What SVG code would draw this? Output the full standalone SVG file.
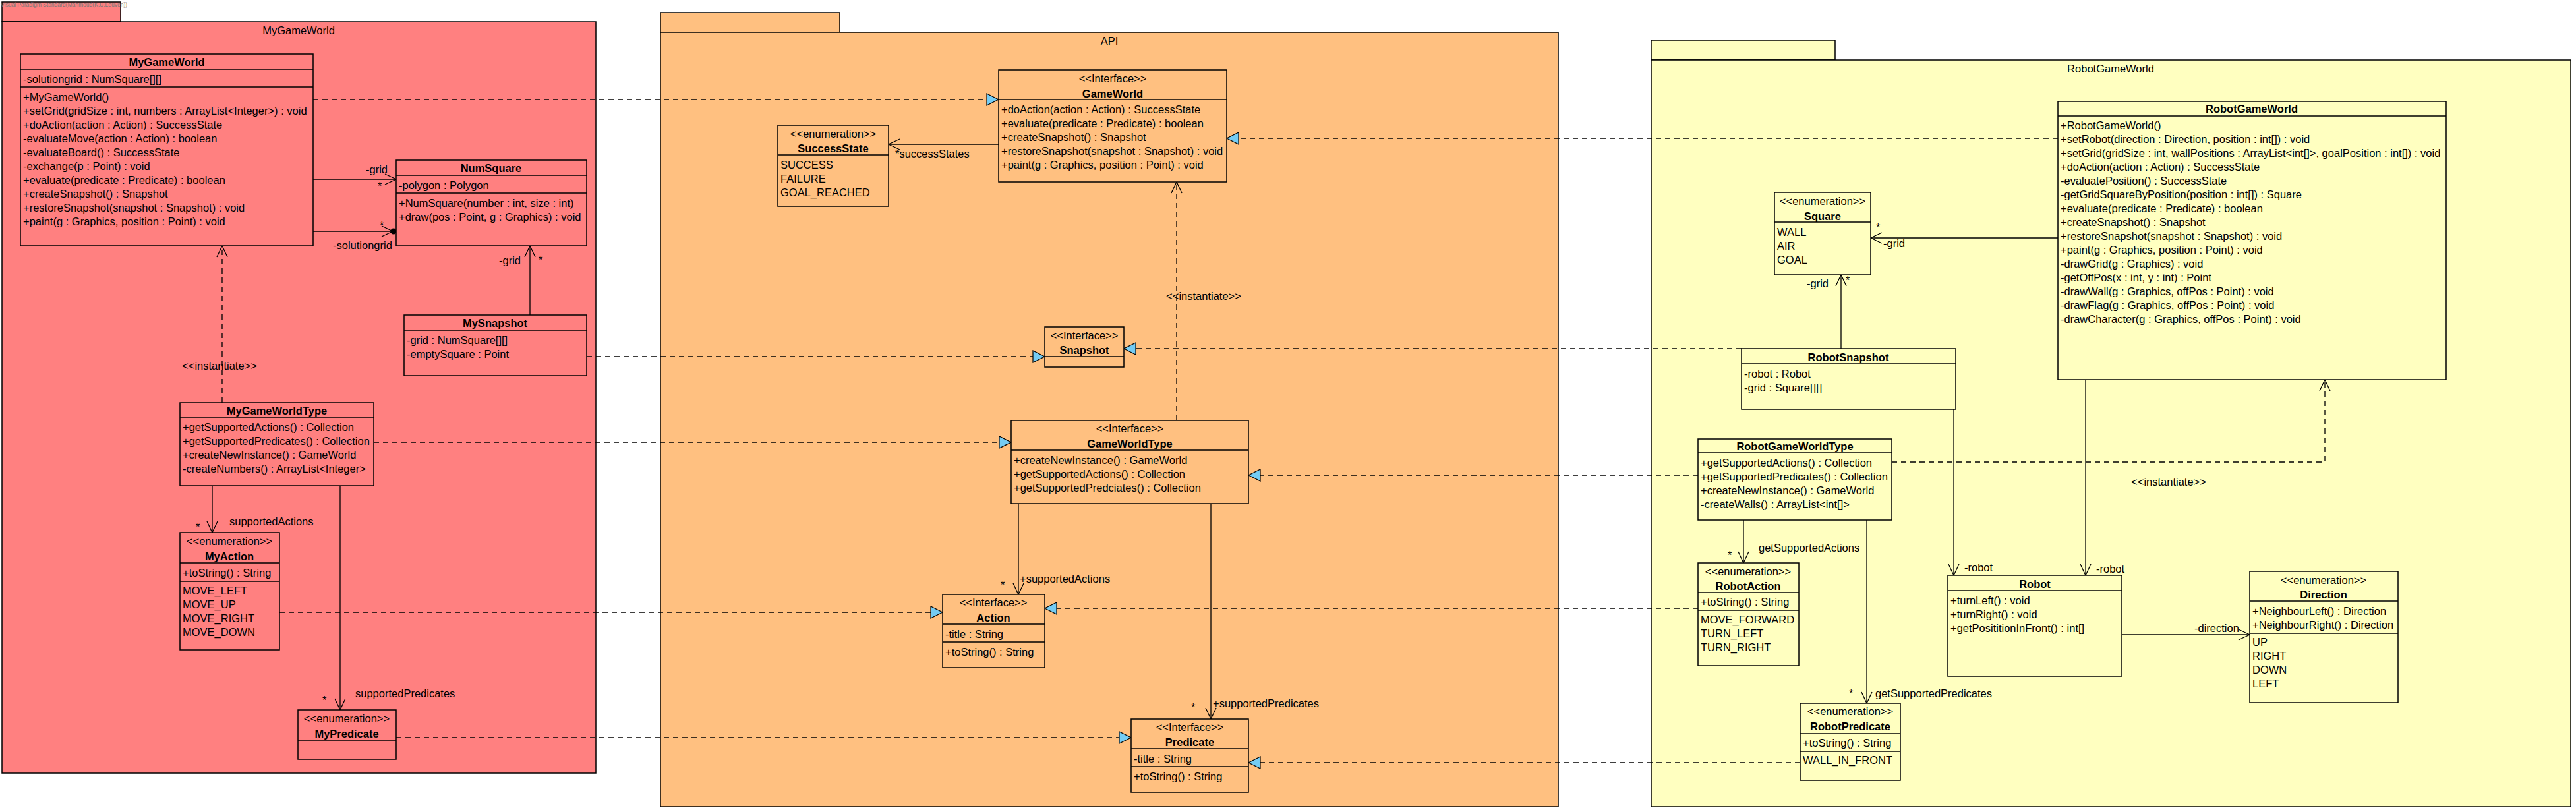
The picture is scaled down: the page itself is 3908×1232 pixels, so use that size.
<svg xmlns="http://www.w3.org/2000/svg" width="3908" height="1232" viewBox="0 0 3908 1232">
<defs>
<style>
text{font-family:"Liberation Sans",Arial,sans-serif;font-size:16.5px;fill:#000}
.b{font-weight:bold}
.c{text-anchor:middle}
.pk{stroke:#000;stroke-width:1.5}
.bx{stroke:#000;stroke-width:1.5}
.sep{stroke:#000;stroke-width:1.5}
.pink{fill:#FF8080}
.orange{fill:#FFC080}
.yellow{fill:#FFFFC0}
.dash{fill:none;stroke:#000;stroke-width:1.3;stroke-dasharray:8 6}
.line{fill:none;stroke:#000;stroke-width:1.3}
.tab{font-size:8.5px;fill:#7a7a7a}
</style>
<marker id="real" markerUnits="userSpaceOnUse" markerWidth="24" markerHeight="24" viewBox="-21 -12 24 24" refX="0" refY="0" orient="auto">
<path d="M0,0 L-18,-9 L-18,9 Z" fill="#74CCF4" stroke="#000" stroke-width="1.2"/>
</marker>
<marker id="open" markerUnits="userSpaceOnUse" markerWidth="24" markerHeight="24" viewBox="-21 -12 24 24" refX="0" refY="0" orient="auto">
<path d="M-17,-8 L0,0 L-17,8" fill="none" stroke="#000" stroke-width="1.3"/>
</marker>
</defs>
<rect width="3908" height="1232" fill="#fff"/>

<!-- Packages -->
<g id="pkg-MyGameWorld">
<rect class="pk pink" x="3" y="3" width="180" height="30"/>
<rect class="pk pink" x="3" y="33" width="901" height="1140"/>
<text class="tab" x="1" y="10">Visual Paradigm Standard(Mahmoud(K.U.Leuven))</text>
<text class="c" x="453" y="52">MyGameWorld</text>
</g>
<g id="pkg-API">
<rect class="pk orange" x="1002" y="19" width="272" height="30"/>
<rect class="pk orange" x="1002" y="49" width="1362" height="1175"/>
<text class="c" x="1683" y="68">API</text>
</g>
<g id="pkg-RobotGameWorld">
<rect class="pk yellow" x="2505" y="61" width="279" height="30"/>
<rect class="pk yellow" x="2505" y="91" width="1395" height="1133"/>
<text class="c" x="3202" y="110">RobotGameWorld</text>
</g>

<!-- Connectors -->
<g id="connectors">
<!-- realizations -->
<path class="dash" d="M475,151 H1515" marker-end="url(#real)"/>
<path class="dash" d="M890,541 H1585" marker-end="url(#real)"/>
<path class="dash" d="M567,671 H1534" marker-end="url(#real)"/>
<path class="dash" d="M424,929 H1430" marker-end="url(#real)"/>
<path class="dash" d="M601,1119 H1716" marker-end="url(#real)"/>
<path class="dash" d="M3122,210 H1861" marker-end="url(#real)"/>
<path class="dash" d="M2642,529 H1705" marker-end="url(#real)"/>
<path class="dash" d="M2576,721 H1894" marker-end="url(#real)"/>
<path class="dash" d="M2576,923 H1585" marker-end="url(#real)"/>
<path class="dash" d="M2731,1157 H1894" marker-end="url(#real)"/>
<!-- instantiate -->
<path class="dash" d="M337,611 V373" marker-end="url(#open)"/>
<text class="c" x="333" y="561">&lt;&lt;instantiate&gt;&gt;</text>
<path class="dash" d="M1785,638 V276" marker-end="url(#open)"/>
<text class="c" x="1826" y="455">&lt;&lt;instantiate&gt;&gt;</text>
<path class="dash" d="M2870,701 H3527 V576" marker-end="url(#open)"/>
<text class="c" x="3290" y="737">&lt;&lt;instantiate&gt;&gt;</text>
<!-- associations -->
<path class="line" d="M475,272 H601" marker-end="url(#open)"/>
<text x="555" y="263">-grid</text>
<text x="573" y="288">*</text>
<path class="line" d="M475,351 H596" marker-end="url(#open)"/>
<circle cx="597" cy="351" r="4.5" fill="#000"/>
<text x="576" y="348">*</text>
<text x="505" y="378">-solutiongrid</text>
<path class="line" d="M804,478 V373" marker-end="url(#open)"/>
<text x="757" y="401">-grid</text>
<text x="817" y="400">*</text>
<path class="line" d="M322,737 V808" marker-end="url(#open)"/>
<text x="297" y="805">*</text>
<text x="348" y="797">supportedActions</text>
<path class="line" d="M516,737 V1077" marker-end="url(#open)"/>
<text x="489" y="1068">*</text>
<text x="539" y="1058">supportedPredicates</text>
<path class="line" d="M1515,219 H1348" marker-end="url(#open)"/>
<text x="1358" y="239">*successStates</text>
<path class="line" d="M1545,764 V902" marker-end="url(#open)"/>
<text x="1518" y="893">*</text>
<text x="1547" y="884">+supportedActions</text>
<path class="line" d="M1837,764 V1091" marker-end="url(#open)"/>
<text x="1807" y="1079">*</text>
<text x="1840" y="1073">+supportedPredicates</text>
<path class="line" d="M3122,361 H2838" marker-end="url(#open)"/>
<text x="2846" y="351">*</text>
<text x="2857" y="375">-grid</text>
<path class="line" d="M2793,529 V417" marker-end="url(#open)"/>
<text x="2741" y="436">-grid</text>
<text x="2800" y="431">*</text>
<path class="line" d="M2645,789 V854" marker-end="url(#open)"/>
<text x="2621" y="848">*</text>
<text x="2668" y="837">getSupportedActions</text>
<path class="line" d="M2832,789 V1067" marker-end="url(#open)"/>
<text x="2805" y="1058">*</text>
<text x="2845" y="1058">getSupportedPredicates</text>
<path class="line" d="M2964,621 V873" marker-end="url(#open)"/>
<text x="2980" y="867">-robot</text>
<path class="line" d="M3164,576 V873" marker-end="url(#open)"/>
<text x="3180" y="869">-robot</text>
<path class="line" d="M3219,963 H3413" marker-end="url(#open)"/>
<text x="3329" y="959">-direction</text>
</g>

<!-- MyGameWorld package classes -->
<g id="MyGameWorld">
<rect class="bx pink" x="31" y="82" width="444" height="291"/>
<line class="sep" x1="31" y1="105" x2="475" y2="105"/>
<line class="sep" x1="31" y1="132" x2="475" y2="132"/>
<text class="b c" x="253" y="100">MyGameWorld</text>
<text x="35" y="126">-solutiongrid : NumSquare[][]</text>
<text x="35" y="153">+MyGameWorld()</text>
<text x="35" y="174">+setGrid(gridSize : int, numbers : ArrayList&lt;Integer&gt;) : void</text>
<text x="35" y="195">+doAction(action : Action) : SuccessState</text>
<text x="35" y="216">-evaluateMove(action : Action) : boolean</text>
<text x="35" y="237">-evaluateBoard() : SuccessState</text>
<text x="35" y="258">-exchange(p : Point) : void</text>
<text x="35" y="279">+evaluate(predicate : Predicate) : boolean</text>
<text x="35" y="300">+createSnapshot() : Snapshot</text>
<text x="35" y="321">+restoreSnapshot(snapshot : Snapshot) : void</text>
<text x="35" y="342">+paint(g : Graphics, position : Point) : void</text>
</g>
<g id="NumSquare">
<rect class="bx pink" x="601" y="243" width="289" height="130"/>
<line class="sep" x1="601" y1="266" x2="890" y2="266"/>
<line class="sep" x1="601" y1="293" x2="890" y2="293"/>
<text class="b c" x="745" y="261">NumSquare</text>
<text x="605" y="287">-polygon : Polygon</text>
<text x="605" y="314">+NumSquare(number : int, size : int)</text>
<text x="605" y="335">+draw(pos : Point, g : Graphics) : void</text>
</g>
<g id="MySnapshot">
<rect class="bx pink" x="613" y="478" width="277" height="92"/>
<line class="sep" x1="613" y1="501" x2="890" y2="501"/>
<text class="b c" x="751" y="496">MySnapshot</text>
<text x="617" y="522">-grid : NumSquare[][]</text>
<text x="617" y="543">-emptySquare : Point</text>
</g>
<g id="MyGameWorldType">
<rect class="bx pink" x="273" y="611" width="294" height="126"/>
<line class="sep" x1="273" y1="633" x2="567" y2="633"/>
<text class="b c" x="420" y="629">MyGameWorldType</text>
<text x="277" y="654">+getSupportedActions() : Collection</text>
<text x="277" y="675">+getSupportedPredicates() : Collection</text>
<text x="277" y="696">+createNewInstance() : GameWorld</text>
<text x="277" y="717">-createNumbers() : ArrayList&lt;Integer&gt;</text>
</g>
<g id="MyAction">
<rect class="bx pink" x="273" y="808" width="151" height="178"/>
<line class="sep" x1="273" y1="854" x2="424" y2="854"/>
<line class="sep" x1="273" y1="882" x2="424" y2="882"/>
<text class="c" x="348" y="827">&lt;&lt;enumeration&gt;&gt;</text>
<text class="b c" x="348" y="850">MyAction</text>
<text x="277" y="875">+toString() : String</text>
<text x="277" y="902">MOVE_LEFT</text>
<text x="277" y="923">MOVE_UP</text>
<text x="277" y="944">MOVE_RIGHT</text>
<text x="277" y="965">MOVE_DOWN</text>
</g>
<g id="MyPredicate">
<rect class="bx pink" x="452" y="1077" width="149" height="75"/>
<line class="sep" x1="452" y1="1123" x2="601" y2="1123"/>
<text class="c" x="526" y="1096">&lt;&lt;enumeration&gt;&gt;</text>
<text class="b c" x="526" y="1119">MyPredicate</text>
</g>

<!-- API classes -->
<g id="GameWorld">
<rect class="bx orange" x="1515" y="106" width="346" height="170"/>
<line class="sep" x1="1515" y1="151" x2="1861" y2="151"/>
<text class="c" x="1688" y="125">&lt;&lt;Interface&gt;&gt;</text>
<text class="b c" x="1688" y="148">GameWorld</text>
<text x="1519" y="172">+doAction(action : Action) : SuccessState</text>
<text x="1519" y="193">+evaluate(predicate : Predicate) : boolean</text>
<text x="1519" y="214">+createSnapshot() : Snapshot</text>
<text x="1519" y="235">+restoreSnapshot(snapshot : Snapshot) : void</text>
<text x="1519" y="256">+paint(g : Graphics, position : Point) : void</text>
</g>
<g id="SuccessState">
<rect class="bx orange" x="1180" y="190" width="168" height="123"/>
<line class="sep" x1="1180" y1="235" x2="1348" y2="235"/>
<text class="c" x="1264" y="209">&lt;&lt;enumeration&gt;&gt;</text>
<text class="b c" x="1264" y="231">SuccessState</text>
<text x="1184" y="256">SUCCESS</text>
<text x="1184" y="277">FAILURE</text>
<text x="1184" y="298">GOAL_REACHED</text>
</g>
<g id="Snapshot">
<rect class="bx orange" x="1585" y="496" width="120" height="61"/>
<line class="sep" x1="1585" y1="541" x2="1705" y2="541"/>
<text class="c" x="1645" y="515">&lt;&lt;Interface&gt;&gt;</text>
<text class="b c" x="1645" y="537">Snapshot</text>
</g>
<g id="GameWorldType">
<rect class="bx orange" x="1534" y="638" width="360" height="126"/>
<line class="sep" x1="1534" y1="683" x2="1894" y2="683"/>
<text class="c" x="1714" y="656">&lt;&lt;Interface&gt;&gt;</text>
<text class="b c" x="1714" y="679">GameWorldType</text>
<text x="1538" y="704">+createNewInstance() : GameWorld</text>
<text x="1538" y="725">+getSupportedActions() : Collection</text>
<text x="1538" y="746">+getSupportedPredciates() : Collection</text>
</g>
<g id="Action">
<rect class="bx orange" x="1430" y="902" width="155" height="111"/>
<line class="sep" x1="1430" y1="947" x2="1585" y2="947"/>
<line class="sep" x1="1430" y1="974" x2="1585" y2="974"/>
<text class="c" x="1507" y="920">&lt;&lt;Interface&gt;&gt;</text>
<text class="b c" x="1507" y="943">Action</text>
<text x="1434" y="968">-title : String</text>
<text x="1434" y="995">+toString() : String</text>
</g>
<g id="Predicate">
<rect class="bx orange" x="1716" y="1091" width="178" height="111"/>
<line class="sep" x1="1716" y1="1136" x2="1894" y2="1136"/>
<line class="sep" x1="1716" y1="1163" x2="1894" y2="1163"/>
<text class="c" x="1805" y="1109">&lt;&lt;Interface&gt;&gt;</text>
<text class="b c" x="1805" y="1132">Predicate</text>
<text x="1720" y="1157">-title : String</text>
<text x="1720" y="1184">+toString() : String</text>
</g>

<!-- RobotGameWorld classes -->
<g id="Square">
<rect class="bx yellow" x="2692" y="292" width="146" height="125"/>
<line class="sep" x1="2692" y1="337" x2="2838" y2="337"/>
<text class="c" x="2765" y="311">&lt;&lt;enumeration&gt;&gt;</text>
<text class="b c" x="2765" y="334">Square</text>
<text x="2696" y="358">WALL</text>
<text x="2696" y="379">AIR</text>
<text x="2696" y="400">GOAL</text>
</g>
<g id="RobotGameWorld">
<rect class="bx yellow" x="3122" y="154" width="589" height="422"/>
<line class="sep" x1="3122" y1="176" x2="3711" y2="176"/>
<text class="b c" x="3416" y="171">RobotGameWorld</text>
<text x="3126" y="196">+RobotGameWorld()</text>
<text x="3126" y="217">+setRobot(direction : Direction, position : int[]) : void</text>
<text x="3126" y="238">+setGrid(gridSize : int, wallPositions : ArrayList&lt;int[]&gt;, goalPosition : int[]) : void</text>
<text x="3126" y="259">+doAction(action : Action) : SuccessState</text>
<text x="3126" y="280">-evaluatePosition() : SuccessState</text>
<text x="3126" y="301">-getGridSquareByPosition(position : int[]) : Square</text>
<text x="3126" y="322">+evaluate(predicate : Predicate) : boolean</text>
<text x="3126" y="343">+createSnapshot() : Snapshot</text>
<text x="3126" y="364">+restoreSnapshot(snapshot : Snapshot) : void</text>
<text x="3126" y="385">+paint(g : Graphics, position : Point) : void</text>
<text x="3126" y="406">-drawGrid(g : Graphics) : void</text>
<text x="3126" y="427">-getOffPos(x : int, y : int) : Point</text>
<text x="3126" y="448">-drawWall(g : Graphics, offPos : Point) : void</text>
<text x="3126" y="469">-drawFlag(g : Graphics, offPos : Point) : void</text>
<text x="3126" y="490">-drawCharacter(g : Graphics, offPos : Point) : void</text>
</g>
<g id="RobotSnapshot">
<rect class="bx yellow" x="2642" y="529" width="325" height="92"/>
<line class="sep" x1="2642" y1="552" x2="2967" y2="552"/>
<text class="b c" x="2804" y="548">RobotSnapshot</text>
<text x="2646" y="573">-robot : Robot</text>
<text x="2646" y="594">-grid : Square[][]</text>
</g>
<g id="RobotGameWorldType">
<rect class="bx yellow" x="2576" y="666" width="294" height="123"/>
<line class="sep" x1="2576" y1="687" x2="2870" y2="687"/>
<text class="b c" x="2723" y="683">RobotGameWorldType</text>
<text x="2580" y="708">+getSupportedActions() : Collection</text>
<text x="2580" y="729">+getSupportedPredicates() : Collection</text>
<text x="2580" y="750">+createNewInstance() : GameWorld</text>
<text x="2580" y="771">-createWalls() : ArrayList&lt;int[]&gt;</text>
</g>
<g id="RobotAction">
<rect class="bx yellow" x="2576" y="854" width="153" height="156"/>
<line class="sep" x1="2576" y1="899" x2="2729" y2="899"/>
<line class="sep" x1="2576" y1="926" x2="2729" y2="926"/>
<text class="c" x="2652" y="873">&lt;&lt;enumeration&gt;&gt;</text>
<text class="b c" x="2652" y="895">RobotAction</text>
<text x="2580" y="919">+toString() : String</text>
<text x="2580" y="946">MOVE_FORWARD</text>
<text x="2580" y="967">TURN_LEFT</text>
<text x="2580" y="988">TURN_RIGHT</text>
</g>
<g id="RobotPredicate">
<rect class="bx yellow" x="2731" y="1067" width="152" height="117"/>
<line class="sep" x1="2731" y1="1113" x2="2883" y2="1113"/>
<line class="sep" x1="2731" y1="1140" x2="2883" y2="1140"/>
<text class="c" x="2807" y="1085">&lt;&lt;enumeration&gt;&gt;</text>
<text class="b c" x="2807" y="1108">RobotPredicate</text>
<text x="2735" y="1133">+toString() : String</text>
<text x="2735" y="1159">WALL_IN_FRONT</text>
</g>
<g id="Robot">
<rect class="bx yellow" x="2955" y="873" width="264" height="153"/>
<line class="sep" x1="2955" y1="896" x2="3219" y2="896"/>
<text class="b c" x="3087" y="892">Robot</text>
<text x="2959" y="917">+turnLeft() : void</text>
<text x="2959" y="938">+turnRight() : void</text>
<text x="2959" y="959">+getPosititionInFront() : int[]</text>
</g>
<g id="Direction">
<rect class="bx yellow" x="3413" y="867" width="225" height="199"/>
<line class="sep" x1="3413" y1="912" x2="3638" y2="912"/>
<line class="sep" x1="3413" y1="961" x2="3638" y2="961"/>
<text class="c" x="3525" y="886">&lt;&lt;enumeration&gt;&gt;</text>
<text class="b c" x="3525" y="908">Direction</text>
<text x="3417" y="933">+NeighbourLeft() : Direction</text>
<text x="3417" y="954">+NeighbourRight() : Direction</text>
<text x="3417" y="980">UP</text>
<text x="3417" y="1001">RIGHT</text>
<text x="3417" y="1022">DOWN</text>
<text x="3417" y="1043">LEFT</text>
</g>
</svg>
